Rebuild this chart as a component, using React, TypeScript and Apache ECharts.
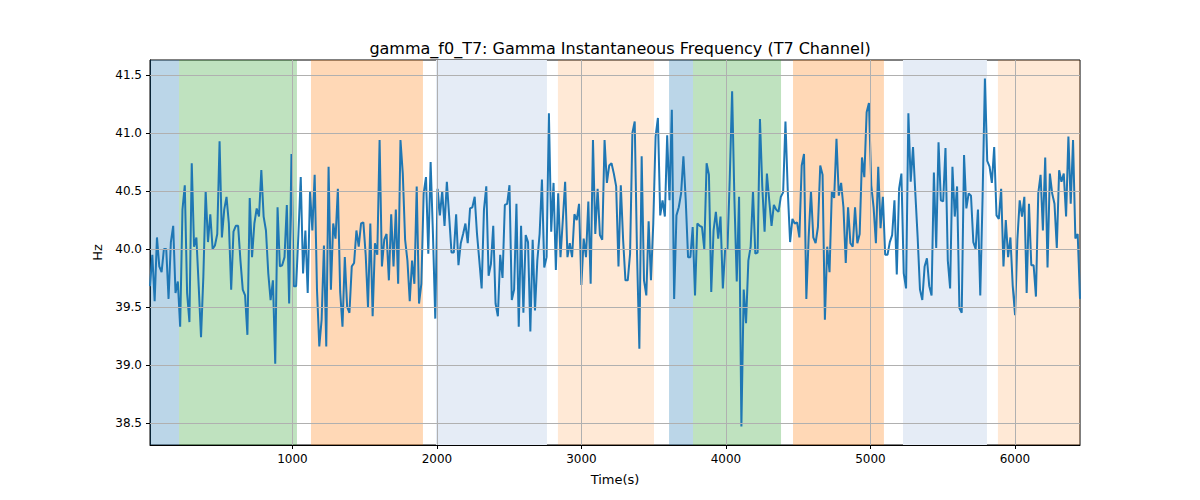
import { useEffect, useRef } from "react";
import * as echarts from "echarts";

const T_START = 14;
const T_END = 6450;
const values = [
  39.68, 39.95, 39.55, 40.1, 39.85, 39.8, 40.0, 40.0, 39.57, 40.06, 40.2, 39.62, 39.72, 39.33, 40.34, 40.55, 39.62, 39.37, 40.74, 40.02,
  40.1, 39.68, 39.24, 39.76, 40.5, 40.06, 40.3, 40.0, 40.03, 40.13, 40.93, 40.1, 40.34, 40.45, 40.22, 39.65, 40.15, 40.2, 40.2, 39.9,
  39.65, 39.6, 39.26, 40.44, 39.93, 40.22, 40.35, 40.28, 40.68, 40.28, 40.16, 39.79, 39.56, 39.73, 39.01, 40.36, 39.85, 39.86, 39.93, 40.38,
  39.53, 40.82, 39.68, 39.68, 40.13, 40.62, 39.79, 40.16, 39.62, 40.5, 40.16, 40.64, 39.65, 39.16, 39.39, 40.03, 39.16, 40.71, 39.65, 40.22,
  40.09, 40.52, 39.63, 39.33, 39.93, 39.5, 39.45, 39.85, 39.88, 40.16, 40.02, 40.22, 40.23, 39.95, 39.5, 40.22, 39.42, 40.05, 39.95, 40.94,
  39.85, 40.08, 40.13, 39.73, 40.3, 39.85, 40.34, 39.7, 40.94, 40.65, 40.08, 39.9, 39.55, 39.9, 39.7, 40.54, 39.53, 39.7, 40.48, 40.62,
  39.96, 40.75, 40.13, 39.4, 40.52, 40.29, 40.5, 40.2, 40.58, 40.28, 39.97, 39.97, 40.3, 39.86, 40.05, 40.13, 40.22, 40.05, 40.35, 40.36,
  40.45, 40.13, 39.9, 39.66, 40.34, 40.54, 39.77, 39.87, 40.2, 39.53, 39.42, 39.95, 39.75, 40.38, 40.39, 40.55, 39.56, 39.65, 40.39, 39.33,
  40.2, 39.45, 40.12, 40.06, 39.29, 40.08, 39.47, 39.9, 40.13, 40.6, 39.84, 39.93, 41.17, 40.15, 40.57, 39.82, 40.48, 39.93, 40.25, 40.58,
  39.93, 40.05, 39.93, 40.3, 40.25, 40.39, 39.69, 40.09, 39.93, 40.41, 39.7, 40.94, 40.13, 40.52, 40.12, 40.08, 40.94, 40.57, 40.72, 40.74,
  40.65, 40.54, 39.85, 40.55, 40.08, 39.73, 39.73, 39.96, 41.0, 41.1, 39.96, 39.14, 40.8, 39.73, 39.6, 40.24, 39.73, 40.22, 40.97, 41.13,
  40.29, 40.42, 40.28, 40.98, 40.42, 41.2, 39.57, 40.29, 40.36, 40.48, 40.8, 40.42, 39.93, 39.93, 40.19, 39.6, 40.22, 40.2, 40.19, 40.0,
  40.74, 40.64, 39.63, 40.16, 40.32, 40.09, 40.28, 39.66, 40.0, 40.0, 40.62, 41.36, 40.42, 39.72, 40.45, 38.47, 39.65, 39.36, 39.9, 40.02,
  40.5, 39.96, 39.97, 41.12, 40.54, 40.15, 40.65, 40.42, 40.2, 40.38, 40.34, 40.32, 40.45, 40.49, 41.1, 40.5, 40.06, 40.26, 40.22, 40.23,
  40.1, 40.72, 40.82, 39.57, 40.1, 40.5, 40.1, 40.05, 40.19, 40.72, 40.64, 39.39, 40.02, 39.8, 40.5, 40.44, 40.95, 40.46, 40.57, 40.36,
  39.88, 40.36, 40.05, 40.02, 40.36, 40.05, 40.13, 40.79, 40.62, 41.18, 41.26, 40.55, 40.36, 40.05, 40.71, 40.18, 40.45, 39.95, 39.95, 40.06,
  40.12, 40.42, 39.78, 40.52, 40.65, 39.79, 39.66, 41.17, 40.58, 40.88, 40.48, 40.1, 39.65, 39.56, 39.85, 39.92, 39.68, 39.6, 40.66, 40.01,
  40.92, 40.42, 40.41, 40.87, 39.9, 39.66, 40.71, 40.28, 40.54, 39.49, 39.45, 40.81, 40.35, 40.48, 40.46, 40.06, 40.0, 40.34, 39.6, 40.45,
  41.47, 40.76, 40.71, 40.57, 40.88, 40.29, 40.26, 40.52, 39.85, 40.25, 39.93, 40.1, 39.68, 39.43, 40.08, 40.42, 40.28, 40.45, 39.62, 40.39,
  39.86, 39.86, 39.59, 40.48, 40.64, 40.16, 40.79, 39.84, 40.65, 40.48, 40.39, 40.01, 40.68, 40.58, 40.65, 40.28, 40.97, 40.39, 40.94, 40.09,
  40.13, 39.57,
];
const times = values.map((_, i) => T_START + ((T_END - T_START) * i) / (values.length - 1));

// [start, end, colour]
const regions: [number, number, string][] = [
  [14, 215, "rgba(31,119,180,0.3)"],
  [215, 1031, "rgba(44,160,44,0.3)"],
  [1128, 1903, "rgba(255,127,14,0.3)"],
  [1993, 2761, "#e5ecf6"],
  [2837, 3502, "rgba(255,127,14,0.17)"],
  [3606, 3772, "rgba(31,119,180,0.3)"],
  [3772, 4381, "rgba(44,160,44,0.3)"],
  [4464, 5093, "rgba(255,127,14,0.3)"],
  [5225, 5806, "#e5ecf6"],
  [5882, 6450, "rgba(255,127,14,0.17)"],
];
const xTicks = [1000, 2000, 3000, 4000, 5000, 6000];
const yTicks = [38.5, 39.0, 39.5, 40.0, 40.5, 41.0, 41.5];

export default function App() {
  const ref = useRef<HTMLDivElement>(null);
  useEffect(() => {
    document.body.style.margin = "0";
    if (!ref.current) return;
    const chart = echarts.init(ref.current, undefined, { renderer: "svg" });
    const font = "DejaVu Sans";
    chart.setOption({
      animation: false,
      textStyle: { fontFamily: font },
      title: {
        text: "gamma_f0_T7: Gamma Instantaneous Frequency (T7 Channel)",
        left: 615, top: 35, textAlign: "center",
        textStyle: { fontSize: 16, fontWeight: "normal", color: "#000", fontFamily: font },
      },
      grid: { left: 150, right: 120, top: 60, bottom: 55, show: true, borderColor: "#000", borderWidth: 1, backgroundColor: "transparent" },
      xAxis: {
        type: "value", min: T_START, max: T_END,
        name: "Time(s)", nameLocation: "middle", nameGap: 28,
        nameTextStyle: { fontSize: 13, color: "#000" },
        axisLine: { lineStyle: { color: "#000" } },
        axisTick: { show: true, customValues: xTicks, length: 4, lineStyle: { color: "#000" } },
        axisLabel: { customValues: xTicks, color: "#000", fontSize: 12, formatter: (v: number) => String(v) },
        splitLine: { show: false },
      },
      yAxis: {
        type: "value", min: 38.31, max: 41.63,
        name: "Hz", nameLocation: "middle", nameGap: 45,
        nameTextStyle: { fontSize: 13, color: "#000" },
        axisLine: { show: true, lineStyle: { color: "#000" } },
        axisTick: { show: true, customValues: yTicks, length: 4, lineStyle: { color: "#000" } },
        axisLabel: { customValues: yTicks, color: "#000", fontSize: 12, formatter: (v: number) => v.toFixed(1) },
        splitLine: { show: false },
      },
      series: [
        {
          type: "line",
          data: times.map((t, i) => [t, values[i]]),
          showSymbol: false,
          lineStyle: { color: "#1f77b4", width: 2 },
          z: 3,
          markArea: {
            silent: true,
            data: regions.map(([a, b, c]) => [{ xAxis: a, itemStyle: { color: c } }, { xAxis: b }]),
          },
          markLine: {
            silent: true, symbol: "none", label: { show: false },
            lineStyle: { color: "#b0b0b0", width: 1, type: "solid" },
            data: [...xTicks.map((v) => ({ xAxis: v })), ...yTicks.map((v) => ({ yAxis: v }))],
          },
        },
      ],
    });
    return () => chart.dispose();
  }, []);
  return <div ref={ref} style={{ width: 1200, height: 500 }} />;
}
